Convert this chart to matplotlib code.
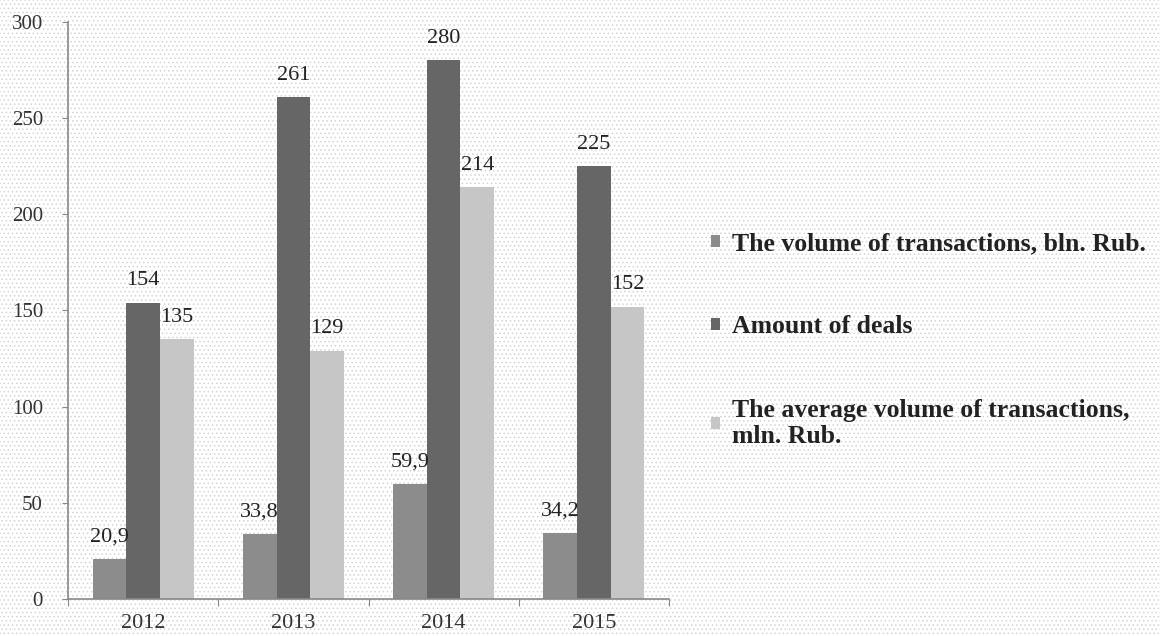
import numpy as np
import matplotlib
matplotlib.use("Agg")
from matplotlib import pyplot as plt
from matplotlib.patches import Rectangle

# data
years = ["2012", "2013", "2014", "2015"]
volume_bln = [20.9, 33.8, 59.9, 34.2]
deals = [154, 261, 280, 225]
avg_volume_mln = [135, 129, 214, 152]

series_names = ["The volume of transactions, bln. Rub.",
                "Amount of deals",
                "The average volume of transactions,\nmln. Rub."]
series_colors = ["#8c8c8c", "#666666", "#c6c6c6"]

def fmt(v):
    # comma as decimal separator, like the source
    if float(v).is_integer():
        return "%d" % v
    return ("%.1f" % v).replace(".", ",")

plt.rcParams["hatch.linewidth"] = 0.6
fig = plt.figure(figsize=(11.6, 6.36), dpi=100)

# faint dotted backdrop like the scanned original
bg = Rectangle((0, 0), 1, 1, transform=fig.transFigure, facecolor="white",
               edgecolor="#d4d4d4", hatch="....", linewidth=0, zorder=-10)
fig.patches.append(bg)

ax = fig.add_axes([68/1160, 1-599/636, (669-68)/1160, (599-22)/636])
ax.patch.set_alpha(0)

x = np.arange(len(years))
w = 0.224
all_series = [volume_bln, deals, avg_volume_mln]
for i, (vals, name, col) in enumerate(zip(all_series, series_names, series_colors)):
    bars = ax.bar(x + (i - 1)*w, vals, w, color=col, label=name, zorder=2)
    for b, v in zip(bars, vals):
        ax.annotate(fmt(v), (b.get_x() + b.get_width()/2, b.get_height()),
                    xytext=(0, 9), textcoords="offset points",
                    ha="center", va="bottom", fontsize=16,
                    family="Liberation Serif", color="#222222")

ax.set_xlim(-0.5, len(years) - 0.5)
ax.set_ylim(0, 300)
ax.set_yticks(range(0, 301, 50))
ax.set_xticks(np.arange(len(years) + 1) - 0.5)
ax.set_xticklabels([])
ax.set_xticks(x, minor=True)
ax.set_xticklabels(years, minor=True)
ax.tick_params(axis="x", which="minor", length=0, pad=11)
ax.tick_params(axis="x", which="major", length=5, color="#888888")
ax.tick_params(axis="y", length=4, color="#888888", pad=14)
for lab in ax.get_yticklabels():
    lab.set_family("Liberation Serif")
    lab.set_fontsize(15)
    lab.set_color("#333333")
for lab in ax.get_xticklabels(minor=True):
    lab.set_family("Liberation Serif")
    lab.set_fontsize(16)
    lab.set_color("#333333")

for s in ["top", "right"]:
    ax.spines[s].set_visible(False)
for s in ["left", "bottom"]:
    ax.spines[s].set_color("#888888")
    ax.spines[s].set_linewidth(1.2)

leg = fig.legend(loc="upper left", bbox_to_anchor=(711/1160, 1-232/636),
                 frameon=False, borderpad=0, borderaxespad=0,
                 handlelength=0.35, handleheight=0.35, handletextpad=0.45,
                 labelspacing=2.35,
                 prop={"family": "Liberation Serif", "weight": "bold", "size": 18.5})
for t in leg.get_texts():
    t.set_color("#222222")

fig.savefig("out.png", dpi=100)
